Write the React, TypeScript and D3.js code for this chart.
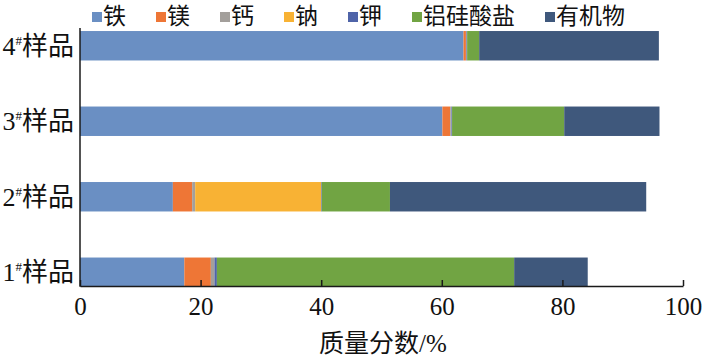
import * as d3 from "d3";
import React, { useEffect, useRef } from "react";

const samples = ["1", "2", "3", "4"];
const categories = ["铁", "镁", "钙", "钠", "钾", "铝硅酸盐", "有机物"];
const colors = ["#6a8fc3", "#ee7636", "#a39f9b", "#f8b234", "#4f64a8", "#71a443", "#3f587c"];

// mass fraction (%) for samples 1#..4#
const fe = [17.3, 15.4, 60.1, 63.6];
const mg = [4.4, 3.2, 1.3, 0.4];
const ca = [0.6, 0.5, 0.2, 0.1];
const na = [0, 20.9, 0, 0];
const k = [0.4, 0.1, 0.1, 0.1];
const silicate = [49.3, 11.3, 18.6, 2.0];
const organic = [12.2, 42.5, 15.8, 29.8];

const xTicks = [0, 20, 40, 60, 80, 100];

const W = 710;
const H = 362;
const font = "'Liberation Serif', 'Noto Sans CJK SC', serif";

const App = () => {
  const ref = useRef<SVGSVGElement>(null);

  useEffect(() => {
    if (!ref.current) return;
    const svg = d3.select(ref.current);
    svg.selectAll("*").remove();

    const series = [fe, mg, ca, na, k, silicate, organic];
    const rows = samples.map((s, i) => {
      const r: any = { sample: s };
      categories.forEach((c, j) => (r[c] = series[j][i]));
      return r;
    });

    const x = d3.scaleLinear().domain([0, 100]).range([80, 683]);
    const y = d3
      .scaleBand()
      .domain(["4", "3", "2", "1"])
      .range([8, 310])
      .paddingInner(0.61)
      .paddingOuter(0.305);

    const stacked = d3.stack().keys(categories)(rows);

    svg
      .append("g")
      .selectAll("g")
      .data(stacked)
      .enter()
      .append("g")
      .attr("fill", (d, i) => colors[i])
      .selectAll("rect")
      .data((d) => d)
      .enter()
      .append("rect")
      .attr("x", (d) => x(d[0]))
      .attr("width", (d) => Math.max(0, x(d[1]) - x(d[0])))
      .attr("y", (d: any) => y(d.data.sample)!)
      .attr("height", y.bandwidth());

    // x axis, ticks pointing inward
    const xAxis = svg
      .append("g")
      .attr("transform", "translate(0,286)")
      .call(d3.axisBottom(x).tickValues(xTicks).tickSizeInner(-6).tickSizeOuter(0));
    xAxis.select(".domain").attr("stroke", "#1a1a1a").attr("stroke-width", 1.5);
    xAxis.selectAll(".tick line").attr("stroke", "#1a1a1a").attr("stroke-width", 1.5);
    xAxis
      .selectAll(".tick text")
      .attr("y", 29)
      .attr("dy", null)
      .attr("fill", "#111")
      .style("font-family", font)
      .style("font-size", "25px");

    // y axis line
    svg
      .append("line")
      .attr("x1", 80)
      .attr("x2", 80)
      .attr("y1", 28)
      .attr("y2", 286.75)
      .attr("stroke", "#1a1a1a")
      .attr("stroke-width", 1.5);

    const labels = svg
      .append("g")
      .selectAll("text")
      .data(samples)
      .enter()
      .append("text")
      .attr("x", 74)
      .attr("y", (d) => y(d)! + y.bandwidth() / 2 + 9)
      .attr("text-anchor", "end")
      .attr("fill", "#111")
      .style("font-family", font)
      .style("font-size", "26px");
    labels.append("tspan").text((d) => d);
    labels
      .append("tspan")
      .attr("dy", -10)
      .style("font-size", "13px")
      .text("#");
    labels.append("tspan").attr("dy", 10).text("样品");

    // legend
    const legend = svg.append("g");
    let lx = 92;
    categories.forEach((c, i) => {
      legend.append("rect").attr("x", lx).attr("y", 12).attr("width", 10).attr("height", 10).attr("fill", colors[i]);
      legend
        .append("text")
        .attr("x", lx + 11)
        .attr("y", 24)
        .attr("fill", "#111")
        .style("font-family", font)
        .style("font-size", "23px")
        .text(c);
      lx += 12 + c.length * 23 + 29;
    });

    svg
      .append("text")
      .attr("x", 383)
      .attr("y", 352)
      .attr("text-anchor", "middle")
      .attr("fill", "#111")
      .style("font-family", font)
      .style("font-size", "25px")
      .text("质量分数/%");
  }, []);

  return (
    <svg
      ref={ref}
      width={W}
      height={H}
      style={{ position: "absolute", left: 0, top: 0, background: "#fff" }}
    />
  );
};

export default App;
